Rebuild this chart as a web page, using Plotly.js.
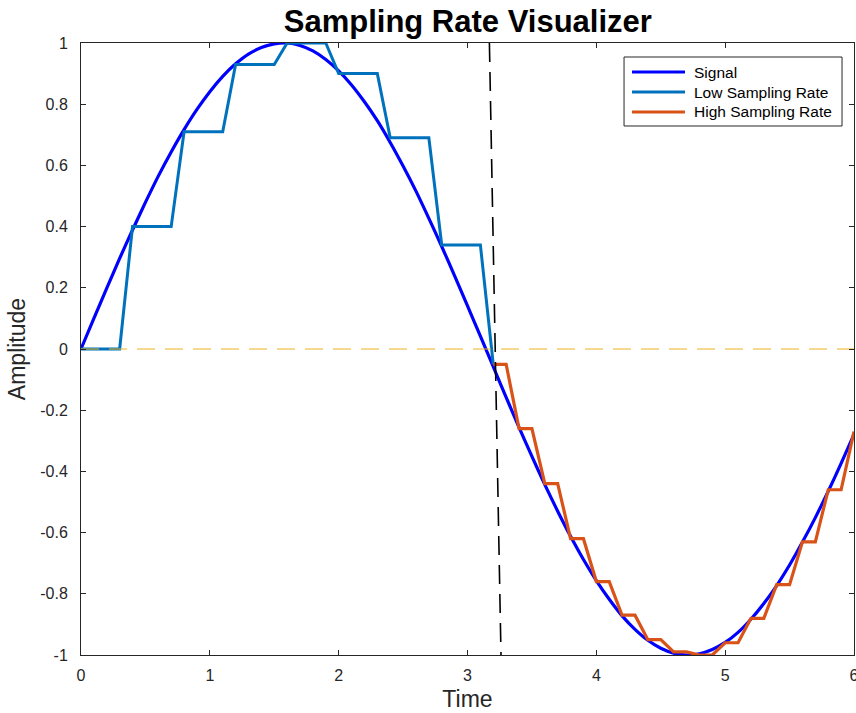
<!DOCTYPE html>
<html>
<head>
<meta charset="utf-8">
<script src="https://cdn.plot.ly/plotly-3.0.1.min.js"></script>
<style>
  html, body { margin: 0; padding: 0; background: #ffffff; }
  #chart { width: 856px; height: 713px; }
</style>
</head>
<body>
<div id="chart"></div>
<script>
// Time axis, 0.1 s resolution
const time = [0.0,0.1,0.2,0.3,0.4,0.5,0.6,0.7,0.8,0.9,1.0,1.1,1.2,1.3,1.4,1.5,1.6,1.7,1.8,1.9,
  2.0,2.1,2.2,2.3,2.4,2.5,2.6,2.7,2.8,2.9,3.0,3.1,3.2,3.3,3.4,3.5,3.6,3.7,3.8,3.9,
  4.0,4.1,4.2,4.3,4.4,4.5,4.6,4.7,4.8,4.9,5.0,5.1,5.2,5.3,5.4,5.5,5.6,5.7,5.8,5.9,6.0];

// Continuous signal
const signal = [0.000,0.100,0.199,0.296,0.389,0.479,0.565,0.644,0.717,0.783,0.841,0.891,0.932,0.964,0.985,0.997,1.000,0.992,0.974,0.946,
  0.909,0.863,0.808,0.746,0.675,0.598,0.516,0.427,0.335,0.239,0.141,0.042,-0.058,-0.158,-0.256,-0.351,-0.443,-0.530,-0.612,-0.688,
  -0.757,-0.818,-0.872,-0.916,-0.952,-0.978,-0.994,-1.000,-0.996,-0.982,-0.959,-0.926,-0.883,-0.832,-0.773,-0.706,-0.631,-0.551,-0.465,-0.374,-0.279];

// Low rate sample-and-hold (first half)
const lowTime = [0.0,0.1,0.2,0.3,0.4,0.5,0.6,0.7,0.8,0.9,1.0,1.1,1.2,1.3,1.4,1.5,1.6,1.7,1.8,1.9,
  2.0,2.1,2.2,2.3,2.4,2.5,2.6,2.7,2.8,2.9,3.0,3.1,3.2];
const lowValues = [0.00,0.00,0.00,0.00,0.40,0.40,0.40,0.40,0.71,0.71,0.71,0.71,0.93,0.93,0.93,0.93,1.00,1.00,1.00,1.00,
  0.90,0.90,0.90,0.90,0.69,0.69,0.69,0.69,0.34,0.34,0.34,0.34,-0.05];

// High rate sample-and-hold (second half)
const highTime = [3.2,3.3,3.4,3.5,3.6,3.7,3.8,3.9,4.0,4.1,4.2,4.3,4.4,4.5,4.6,4.7,4.8,4.9,
  5.0,5.1,5.2,5.3,5.4,5.5,5.6,5.7,5.8,5.9,6.0];
const highValues = [-0.05,-0.05,-0.26,-0.26,-0.44,-0.44,-0.62,-0.62,-0.76,-0.76,-0.87,-0.87,-0.95,-0.95,-0.99,-0.99,-1.00,-1.00,
  -0.96,-0.96,-0.88,-0.88,-0.77,-0.77,-0.63,-0.63,-0.46,-0.46,-0.27];

// Reference lines
const zeroLineX = [0, 6];
const zeroLineY = [0, 0];
const switchLineX = [3.17, 3.26];
const switchLineY = [1, -1];

// Legend entries
const legendNames = ['Signal', 'Low Sampling Rate', 'High Sampling Rate'];
const legendColors = ['#0000FF', '#0072BD', '#D95319'];

const FONT = '"Liberation Sans", Arial, Helvetica, sans-serif';
const AXIS_COLOR = '#262626';

const traces = [
  { x: time, y: signal, mode: 'lines', name: legendNames[0], showlegend: false,
    line: { color: legendColors[0], width: 3.2, shape: 'spline', smoothing: 0.6 } },
  { x: lowTime, y: lowValues, mode: 'lines', name: legendNames[1], showlegend: false,
    line: { color: legendColors[1], width: 3 } },
  { x: highTime, y: highValues, mode: 'lines', name: legendNames[2], showlegend: false,
    line: { color: legendColors[2], width: 3.2 } },
  { x: zeroLineX, y: zeroLineY, mode: 'lines', showlegend: false, hoverinfo: 'skip',
    line: { color: 'rgba(237,177,32,0.5)', width: 2, dash: '18px,10px' } },
  { x: switchLineX, y: switchLineY, mode: 'lines', showlegend: false, hoverinfo: 'skip',
    line: { color: '#000000', width: 1.6, dash: '19px,10px' } }
];

const axisCommon = {
  showline: true, linecolor: AXIS_COLOR, linewidth: 1, mirror: 'ticks',
  ticks: 'inside', ticklen: 5, tickwidth: 1, tickcolor: AXIS_COLOR,
  showgrid: false, zeroline: false,
  tickfont: { family: FONT, size: 16, color: AXIS_COLOR }
};

// Legend box drawn in paper coordinates
const box = { x0: 0.7025, x1: 0.9845, y0: 0.8644, y1: 0.9771 };
const rowY = [0.9526, 0.9199, 0.8873];
const swatchX = [0.7128, 0.7814];
const textX = 0.7904;

const shapes = [{
  type: 'rect', xref: 'paper', yref: 'paper',
  x0: box.x0, x1: box.x1, y0: box.y0, y1: box.y1,
  fillcolor: '#ffffff', line: { color: AXIS_COLOR, width: 1 }, layer: 'above'
}];
const annotations = [];
legendNames.forEach((name, i) => {
  shapes.push({
    type: 'line', xref: 'paper', yref: 'paper',
    x0: swatchX[0], x1: swatchX[1], y0: rowY[i], y1: rowY[i],
    line: { color: legendColors[i], width: 3 }, layer: 'above'
  });
  annotations.push({
    xref: 'paper', yref: 'paper', x: textX, y: rowY[i],
    xanchor: 'left', yanchor: 'middle', showarrow: false,
    text: name, font: { family: FONT, size: 15.5, color: '#000000' }
  });
});

const layout = {
  width: 856, height: 713,
  margin: { l: 81, r: 2, t: 43, b: 58, pad: 0 },
  paper_bgcolor: '#ffffff', plot_bgcolor: '#ffffff',
  font: { family: FONT, color: AXIS_COLOR },
  showlegend: false,
  title: {
    text: '<b>Sampling Rate Visualizer</b>',
    font: { family: FONT, size: 31, color: '#000000' },
    x: 0.5465, xanchor: 'center', y: 0.971, yanchor: 'middle'
  },
  xaxis: Object.assign({}, axisCommon, {
    range: [0, 6], tickvals: [0, 1, 2, 3, 4, 5, 6],
    ticklabelstandoff: 6, ticklabeloverflow: 'allow',
    title: { text: 'Time', font: { family: FONT, size: 23, color: AXIS_COLOR }, standoff: 7 }
  }),
  yaxis: Object.assign({}, axisCommon, {
    range: [-1, 1], tickvals: [-1, -0.8, -0.6, -0.4, -0.2, 0, 0.2, 0.4, 0.6, 0.8, 1],
    ticktext: ['-1', '-0.8', '-0.6', '-0.4', '-0.2', '0', '0.2', '0.4', '0.6', '0.8', '1'],
    ticklabelstandoff: 9,
    title: { text: 'Amplitude', font: { family: FONT, size: 23, color: AXIS_COLOR }, standoff: 8 }
  }),
  shapes: shapes,
  annotations: annotations
};

Plotly.newPlot('chart', traces, layout, { displayModeBar: false, staticPlot: true });
</script>
</body>
</html>
